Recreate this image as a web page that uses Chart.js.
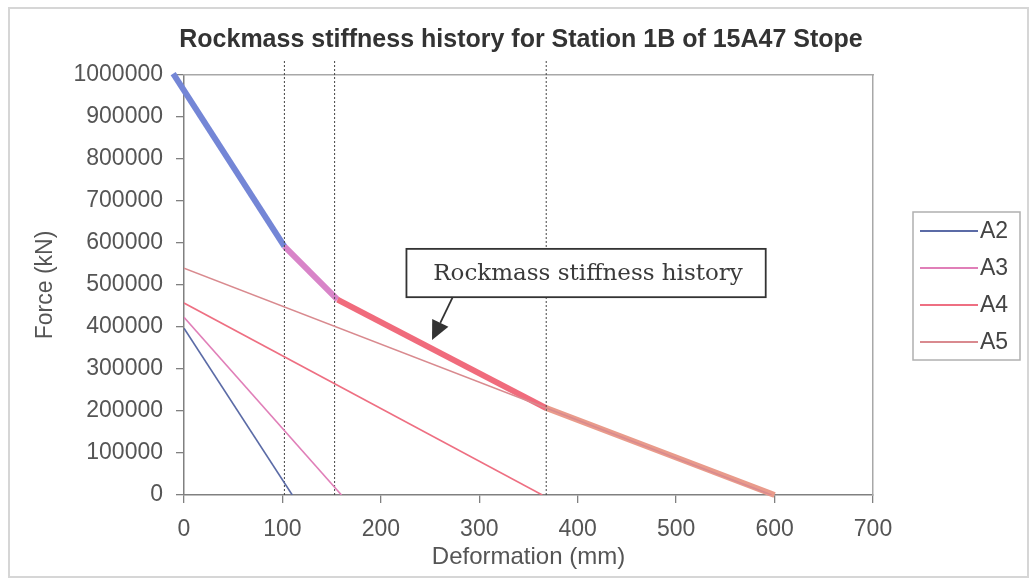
<!DOCTYPE html>
<html>
<head>
<meta charset="utf-8">
<script src="https://cdn.jsdelivr.net/npm/chart.js@4.4.1/dist/chart.umd.min.js"></script>
<style>
  html, body { margin: 0; padding: 0; background: #fff; }
  #wrap { position: relative; width: 1032px; height: 582px; }
  #frame { position: absolute; left: 8px; top: 7px; width: 1017px; height: 567px; border: 2px solid #d6d6d6; }
  #chart { position: absolute; left: 0; top: 0; }
</style>
</head>
<body>
<div id="wrap">
  <div id="frame"></div>
  <canvas id="chart" width="1032" height="582"></canvas>
</div>
<script>
// deformation in mm, force in kN
const seriesNames = ["A2", "A3", "A4", "A5"]
const a2X = [0, 110]
const a2Y = [397000, 0]
const a3X = [0, 160]
const a3Y = [423000, 0]
const a4X = [0, 364]
const a4Y = [457000, 0]
const a5X = [0, 597]
const a5Y = [540000, 0]

// thick "stiffness history" path, one colour per stage
const historyX = [-11, 102, 156, 368, 600]
const historyY = [1003000, 592000, 465000, 207000, 0]

// dotted stage markers
const stageX = [102, 153, 368]
const stageY = [0, 1035000]

const xTickLabels = ["0", "100", "200", "300", "400", "500", "600", "700"]
const yTickLabels = ["0", "100000", "200000", "300000", "400000", "500000",
  "600000", "700000", "800000", "900000", "1000000"]

const seriesColors = ["#5b6ba6", "#e07fb8", "#ee6f82", "#d98a8f"]
const historyColors = ["#7486d6", "#d884c8", "#f06b7c", "#e99b8b"]

// callout, in data units
const noteText = "Rockmass stiffness history"
const noteBox = [226, 586000, 591, 471000]
const noteArrow = [273, 471000, 252, 369000]

function points(xs, ys){
    return xs.map((x, i) => ({x: x, y: ys[i]}))
}

let datasets = []
let seriesData = [[a2X, a2Y], [a3X, a3Y], [a4X, a4Y], [a5X, a5Y]]
seriesData.forEach((s, i) => {
    datasets.push({
        label: seriesNames[i],
        data: points(s[0], s[1]),
        borderColor: seriesColors[i],
        borderWidth: 1.6,
        showLine: true,
        pointRadius: 0
    })
})
stageX.forEach(x => {
    datasets.push({
        label: "",
        data: points([x, x], stageY),
        borderColor: "#444",
        borderWidth: 1,
        borderDash: [2, 2],
        showLine: true,
        pointRadius: 0,
        clip: false
    })
})
datasets.push({
    label: "",
    data: points(historyX, historyY),
    borderWidth: 6,
    borderColor: historyColors[0],
    segment: {
        borderColor: c => historyColors[c.p0DataIndex]
    },
    borderJoinStyle: "round",
    showLine: true,
    pointRadius: 0,
    clip: false
})

const extras = {
    id: "extras",
    afterDatasetsDraw(chart){
        let ctx = chart.ctx
        let xs = chart.scales.x
        let ys = chart.scales.y
        ctx.save()

        // callout box
        let bx1 = xs.getPixelForValue(noteBox[0])
        let by1 = ys.getPixelForValue(noteBox[1])
        let bx2 = xs.getPixelForValue(noteBox[2])
        let by2 = ys.getPixelForValue(noteBox[3])
        ctx.fillStyle = "#fff"
        ctx.fillRect(bx1, by1, bx2 - bx1, by2 - by1)
        ctx.strokeStyle = "#333"
        ctx.lineWidth = 1.8
        ctx.strokeRect(bx1, by1, bx2 - bx1, by2 - by1)
        ctx.fillStyle = "#3a3a3a"
        ctx.font = "23px 'DejaVu Serif'"
        ctx.textAlign = "center"
        ctx.textBaseline = "middle"
        ctx.fillText(noteText, (bx1 + bx2) / 2 + 2, (by1 + by2) / 2 + 1)

        // arrow
        let ax1 = xs.getPixelForValue(noteArrow[0])
        let ay1 = ys.getPixelForValue(noteArrow[1])
        let ax2 = xs.getPixelForValue(noteArrow[2])
        let ay2 = ys.getPixelForValue(noteArrow[3])
        let len = Math.hypot(ax2 - ax1, ay2 - ay1)
        let ux = (ax2 - ax1) / len, uy = (ay2 - ay1) / len
        let head = 19, half = 9
        let hx = ax2 - ux * head, hy = ay2 - uy * head
        ctx.strokeStyle = "#333"
        ctx.lineWidth = 1.8
        ctx.beginPath()
        ctx.moveTo(ax1, ay1)
        ctx.lineTo(hx, hy)
        ctx.stroke()
        ctx.fillStyle = "#333"
        ctx.beginPath()
        ctx.moveTo(ax2, ay2)
        ctx.lineTo(hx - uy * half, hy + ux * half)
        ctx.lineTo(hx + uy * half, hy - ux * half)
        ctx.closePath()
        ctx.fill()

        // legend
        let items = chart.data.datasets.filter(d => seriesNames.includes(d.label))
        ctx.strokeStyle = "#b0b0b0"
        ctx.lineWidth = 1.5
        ctx.strokeRect(913, 212, 107, 148)
        ctx.font = "23px 'Liberation Sans'"
        ctx.textAlign = "left"
        ctx.textBaseline = "middle"
        items.forEach((d, i) => {
            let y = 231 + i * 37
            ctx.strokeStyle = d.borderColor
            ctx.lineWidth = 1.8
            ctx.beginPath()
            ctx.moveTo(920, y)
            ctx.lineTo(978, y)
            ctx.stroke()
            ctx.fillStyle = "#444"
            ctx.fillText(d.label, 980, y + 1)
        })
        ctx.restore()
    }
}

let tickFont = {family: "'Liberation Sans', Arial, sans-serif", size: 23}

new Chart(document.getElementById("chart"), {
    type: "scatter",
    data: {datasets: datasets},
    plugins: [extras],
    options: {
        responsive: false,
        animation: false,
        layout: {padding: {left: 10, right: 0, top: 0, bottom: 0}},
        plugins: {
            legend: {display: false},
            tooltip: {enabled: false},
            title: {
                display: true,
                text: "Rockmass stiffness history for Station 1B of 15A47 Stope",
                color: "#333",
                font: {family: "'Liberation Sans', Arial, sans-serif", size: 25, weight: "bold"},
                padding: {top: 25, bottom: 20}
            }
        },
        scales: {
            x: {
                type: "linear",
                position: "bottom",
                min: 0,
                max: 700,
                afterFit: s => { s.height = 87 },
                ticks: {
                    stepSize: 100,
                    padding: 13,
                    color: "#555",
                    font: tickFont,
                    callback: (v, i) => xTickLabels[i]
                },
                grid: {drawOnChartArea: false, tickLength: 8, color: "#808080", lineWidth: 1.3},
                border: {color: "#808080", width: 1.5},
                title: {
                    display: true,
                    text: "Deformation (mm)",
                    color: "#555",
                    font: {family: "'Liberation Sans', Arial, sans-serif", size: 24},
                    padding: {top: 0, bottom: 10.5}
                }
            },
            y: {
                type: "linear",
                position: "left",
                min: 0,
                max: 1000000,
                afterFit: s => { s.width = 174 },
                ticks: {
                    stepSize: 100000,
                    padding: 13,
                    color: "#555",
                    font: tickFont,
                    callback: (v, i) => yTickLabels[i]
                },
                grid: {drawOnChartArea: false, tickLength: 8, color: "#808080", lineWidth: 1.3},
                border: {color: "#808080", width: 1.5},
                title: {
                    display: true,
                    text: "Force (kN)",
                    color: "#555",
                    font: {family: "'Liberation Sans', Arial, sans-serif", size: 23},
                    padding: {top: 22, bottom: 0}
                }
            },
            x2: {
                type: "linear",
                position: "top",
                min: 0,
                max: 700,
                afterFit: s => { s.height = 0 },
                ticks: {display: false},
                grid: {display: false},
                border: {color: "#a8a8a8", width: 1.5}
            },
            y2: {
                type: "linear",
                position: "right",
                min: 0,
                max: 1000000,
                afterFit: s => { s.width = 159 },
                ticks: {display: false},
                grid: {display: false},
                border: {color: "#a8a8a8", width: 1.5}
            }
        }
    }
})
</script>
</body>
</html>
